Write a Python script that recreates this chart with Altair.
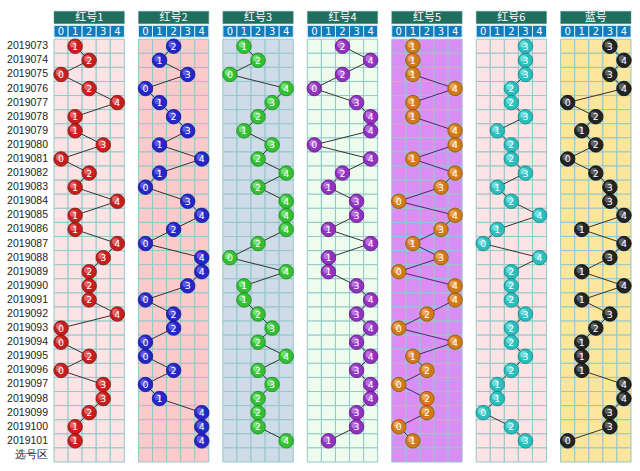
import altair as alt
import pandas as pd

periods = ["2019073", "2019074", "2019075", "2019076", "2019077", "2019078",
           "2019079", "2019080", "2019081", "2019082", "2019083", "2019084",
           "2019085", "2019086", "2019087", "2019088", "2019089", "2019090",
           "2019091", "2019092", "2019093", "2019094", "2019095", "2019096",
           "2019097", "2019098", "2019099", "2019100", "2019101"]
zone_label = "选号区"
panels = ["红号1", "红号2", "红号3", "红号4", "红号5", "红号6", "蓝号"]
columns = [0, 1, 2, 3, 4]

red1 = [1, 2, 0, 2, 4, 1, 1, 3, 0, 2, 1, 4, 1, 1, 4, 3, 2, 2, 2, 4, 0, 0, 2, 0, 3, 3, 2, 1, 1]
red2 = [2, 1, 3, 0, 1, 2, 3, 1, 4, 1, 0, 3, 4, 2, 0, 4, 4, 3, 0, 2, 2, 0, 0, 2, 0, 1, 4, 4, 4]
red3 = [1, 2, 0, 4, 3, 2, 1, 3, 2, 4, 2, 4, 4, 4, 2, 0, 4, 1, 1, 2, 3, 2, 4, 2, 3, 2, 2, 2, 4]
red4 = [2, 4, 2, 0, 3, 4, 4, 0, 4, 2, 1, 3, 3, 1, 4, 1, 1, 3, 4, 3, 4, 3, 4, 3, 4, 4, 3, 3, 1]
red5 = [1, 1, 1, 4, 1, 1, 4, 4, 1, 4, 3, 0, 4, 3, 1, 3, 0, 4, 4, 2, 0, 4, 1, 2, 0, 2, 2, 0, 1]
red6 = [3, 3, 3, 2, 2, 3, 1, 2, 2, 3, 1, 2, 4, 1, 0, 4, 2, 2, 2, 3, 2, 2, 3, 2, 1, 1, 0, 2, 3]
blue = [3, 4, 3, 4, 0, 2, 1, 2, 0, 2, 3, 3, 4, 1, 4, 3, 1, 4, 1, 3, 2, 1, 1, 1, 4, 4, 3, 3, 0]
series = [red1, red2, red3, red4, red5, red6, blue]

bg_colors = ["#fde3e3", "#fccaca", "#cfdbe7", "#eefcee", "#d88ef2", "#fde3e3", "#fbe69b"]
ball_light = ["#f29090", "#8080f4", "#a0f0a0", "#d29aea", "#f6c482", "#a0f2f2", "#8a8a8a"]
ball_base = ["#c81e1e", "#2626c8", "#34c034", "#9232c0", "#d27a1a", "#2abebe", "#242424"]
ball_dark = ["#861010", "#14148a", "#1d861d", "#5e167a", "#91500a", "#158484", "#080808"]
line_colors = ["#333333", "#333333", "#333333", "#333333", "#4a2870", "#333333", "#333333"]

nrows = len(periods) + 1
W = len(panels) * 6 - 1

xs = alt.Scale(domain=[0, W], nice=False, zero=False)
ys = alt.Scale(domain=[-2, nrows], reverse=True, nice=False, zero=False)

cells = pd.DataFrame([
    dict(panel=p, x=i * 6 + c, x2=i * 6 + c + 1, y=r, y2=r + 1)
    for i, p in enumerate(panels) for c in columns for r in range(nrows)
])
titles = pd.DataFrame([
    dict(panel=p, x=i * 6, x2=i * 6 + 5, xm=i * 6 + 2.5, y=-1.98, y2=-1.1, ym=-1.52)
    for i, p in enumerate(panels)
])
heads = pd.DataFrame([
    dict(panel=p, col=str(c), x=i * 6 + c, x2=i * 6 + c + 1, xm=i * 6 + c + 0.5,
         y=-0.98, y2=-0.14, ym=-0.54)
    for i, p in enumerate(panels) for c in columns
])
balls = pd.DataFrame([
    dict(panel=p, pi=i, row=r, v=v, label=str(v), x=i * 6 + v + 0.5, y=r + 0.5,
         hx=i * 6 + v + 0.5 - 0.13, hy=r + 0.5 - 0.13)
    for i, (p, s) in enumerate(zip(panels, series)) for r, v in enumerate(s)
])
rowlab = pd.DataFrame({"label": periods + [zone_label],
                       "x": [0] * nrows,
                       "y": [r + 0.5 for r in range(nrows)]})


def X(f):
    return alt.X(f, scale=xs, axis=None)


def Y(f):
    return alt.Y(f, scale=ys, axis=None)


bg = alt.Chart(cells).mark_rect(stroke="#93c8ca", strokeWidth=1).encode(
    x=X("x:Q"), x2="x2:Q", y=Y("y:Q"), y2="y2:Q",
    color=alt.Color("panel:N", scale=alt.Scale(domain=panels, range=bg_colors), legend=None),
)

title_bar = alt.Chart(titles).mark_rect(color="#1f6e60", stroke="#5a9a8e", strokeWidth=0.5).encode(
    x=X("x:Q"), x2="x2:Q", y=Y("y:Q"), y2="y2:Q",
)
title_txt = alt.Chart(titles).mark_text(color="white", fontSize=11, font="Noto Sans CJK SC").encode(
    x=X("xm:Q"), y=Y("ym:Q"), text="panel:N",
)
head_bar = alt.Chart(heads).mark_rect(color="#0f7cbd", stroke="#d8eef8", strokeWidth=1).encode(
    x=X("x:Q"), x2="x2:Q", y=Y("y:Q"), y2="y2:Q",
)
head_txt = alt.Chart(heads).mark_text(color="white", fontSize=10, font="DejaVu Sans").encode(
    x=X("xm:Q"), y=Y("ym:Q"), text="col:N",
)
row_txt = alt.Chart(rowlab).mark_text(align="right", dx=-6, fontSize=10.5, color="#222222",
                                      font="Liberation Sans").encode(
    x=X("x:Q"), y=Y("y:Q"), text="label:N",
)

layers = [bg, title_bar, title_txt, head_bar, head_txt, row_txt]

for i, p in enumerate(panels):
    sub = balls[balls.pi == i]
    line = alt.Chart(sub).mark_line(color=line_colors[i], strokeWidth=1).encode(
        x=X("x:Q"), y=Y("y:Q"), order="row:Q",
    )
    circ = alt.Chart(sub).mark_circle(size=210, opacity=1, color=ball_base[i],
                                      stroke=ball_dark[i], strokeWidth=0.8).encode(
        x=X("x:Q"), y=Y("y:Q"),
    )
    shine = alt.Chart(sub).mark_circle(size=45, opacity=0.6, color=ball_light[i]).encode(
        x=X("hx:Q"), y=Y("hy:Q"),
    )
    txt = alt.Chart(sub).mark_text(color="white", fontSize=9.5, font="DejaVu Sans", dy=0.5).encode(
        x=X("x:Q"), y=Y("y:Q"), text="label:N",
    )
    layers += [line, circ, shine, txt]

chart = alt.layer(*layers).properties(
    width=577, height=451,
    padding={"left": 54, "top": 11, "right": 9, "bottom": 9},
    autosize=alt.AutoSizeParams(type="none"),
    background="white",
).configure_view(stroke=None)

chart.save("out.html", embed_options={"renderer": "svg", "actions": False})
